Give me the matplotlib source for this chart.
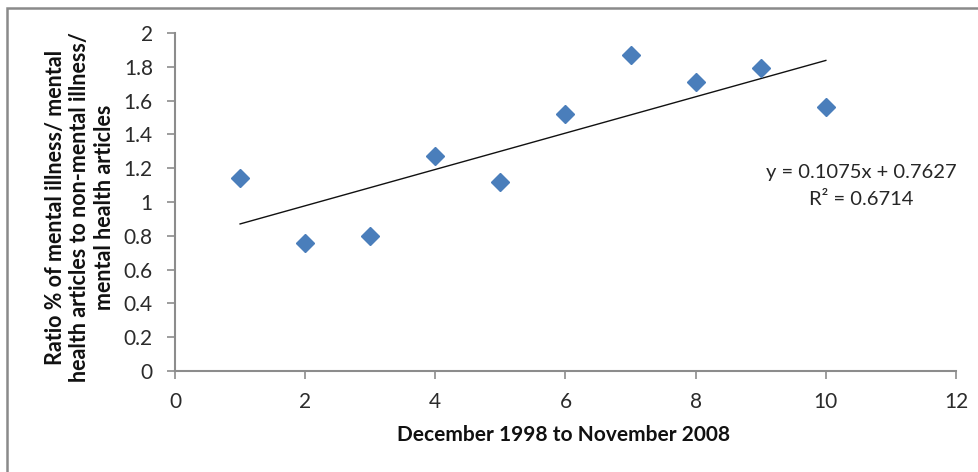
import matplotlib.pyplot as plt
from matplotlib.patches import Rectangle

# period index (Dec 1998 .. Nov 2008) and ratio values
periods = [1, 2, 3, 4, 5, 6, 7, 8, 9, 10]
ratios = [1.14, 0.76, 0.80, 1.27, 1.12, 1.52, 1.87, 1.71, 1.79, 1.565]

# linear trendline as reported on the chart
slope = 0.1075
intercept = 0.7627
r_squared = 0.6714

x_ticks = [0, 2, 4, 6, 8, 10, 12]
y_ticks = [0, 0.2, 0.4, 0.6, 0.8, 1, 1.2, 1.4, 1.6, 1.8, 2]
y_tick_labels = ["0", "0.2", "0.4", "0.6", "0.8", "1", "1.2", "1.4", "1.6", "1.8", "2"]


def main() -> None:
    plt.rcParams["font.family"] = ["Lato", "DejaVu Sans"]
    fig = plt.figure(figsize=(9.79, 4.72), dpi=100)

    # outer chart-area border (runs off the right and bottom edges)
    fig.patches.append(
        Rectangle((7 / 979, -0.1), 1.1, 1 - 8 / 472 + 0.1,
                  transform=fig.transFigure, fill=False,
                  edgecolor="#8a8a8a", linewidth=1.8)
    )

    ax = fig.add_axes([175 / 979, 1 - 371 / 472, (956 - 175) / 979, (371 - 33) / 472])

    ax.plot(periods, ratios, linestyle="none", marker="D", markersize=9.2,
            color="#4a7ebb", markeredgecolor="#4a7ebb", zorder=3)

    trend_x = [periods[0], periods[-1]]
    trend_y = [slope * x + intercept for x in trend_x]
    ax.plot(trend_x, trend_y, color="#111111", linewidth=1.0, zorder=2)

    ax.set_xlim(0, 12)
    ax.set_ylim(0, 2)

    ax.text(10.55, 1.173, "y = %.4fx + %.4f" % (slope, intercept),
            fontsize=14.5, color="#262626", ha="center", va="center")
    ax.text(10.55, 1.016, "R² = %.4f" % r_squared, fontsize=14.5,
            color="#262626", ha="center", va="center")

    ax.set_xticks(x_ticks)
    ax.set_yticks(y_ticks)
    ax.set_yticklabels(y_tick_labels)
    ax.tick_params(axis="both", direction="out", length=6, width=1.2,
                   color="#8c8c8c", labelsize=15, labelcolor="#2b2b2b")
    ax.tick_params(axis="x", pad=9)
    ax.tick_params(axis="y", pad=10)

    for side in ("top", "right"):
        ax.spines[side].set_visible(False)
    for side in ("left", "bottom"):
        ax.spines[side].set_color("#8c8c8c")
        ax.spines[side].set_linewidth(1.5)

    fig.text(564 / 979, 1 - 435 / 472, "December 1998 to November 2008",
             fontsize=15, fontweight="bold", color="#111111",
             ha="center", va="center")
    fig.text(80 / 979, 1 - 207 / 472,
             "Ratio % of mental illness/ mental\n"
             "health articles to non-mental illness/\n"
             "mental health articles",
             rotation=90, fontsize=15.5, fontweight="bold", color="#111111",
             linespacing=1.2, ha="center", va="center", multialignment="center")

    fig.savefig("out.png")


if __name__ == "__main__":
    main()
